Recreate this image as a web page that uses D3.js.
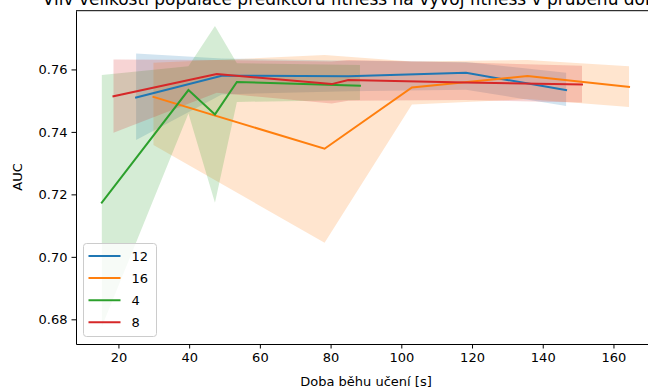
<!DOCTYPE html>
<html>
<head>
<meta charset="utf-8">
<script src="https://cdn.jsdelivr.net/npm/d3@7"></script>
<style>
  body { margin: 0; background: #fff; }
  text { font-family: "DejaVu Sans", sans-serif; fill: #000; }
</style>
</head>
<body>
<div id="chart"></div>
<script>
// series: population size of fitness predictors -> (time, AUC mean, band low, band high)
var labels = ["12", "16", "4", "8"];
var colors = ["#1f77b4", "#ff7f0e", "#2ca02c", "#d62728"];

var time12 = [25.0, 49.2, 85.0, 118.3, 146.6];
var auc12  = [0.7510, 0.7580, 0.7578, 0.7589, 0.7534];
var lo12   = [0.7374, 0.7520, 0.7530, 0.7535, 0.7483];
var hi12   = [0.7651, 0.7635, 0.7628, 0.7624, 0.7589];

var time16 = [29.9, 78.3, 103.0, 135.7, 164.4];
var auc16  = [0.7512, 0.7346, 0.7542, 0.7579, 0.7544];
var lo16   = [0.7358, 0.7045, 0.7488, 0.7505, 0.7480];
var hi16   = [0.7621, 0.7646, 0.7625, 0.7630, 0.7610];

var time4 = [15.3, 39.8, 47.3, 53.5, 88.3];
var auc4  = [0.7174, 0.7534, 0.7456, 0.7560, 0.7548];
var lo4   = [0.6776, 0.7459, 0.7173, 0.7496, 0.7502];
var hi4   = [0.7582, 0.7610, 0.7739, 0.7620, 0.7614];

var time8 = [18.6, 47.8, 80.3, 85.0, 118.0, 151.1];
var auc8  = [0.7514, 0.7585, 0.7553, 0.7566, 0.7558, 0.7552];
var lo8   = [0.7397, 0.7525, 0.7491, 0.7500, 0.7502, 0.7494];
var hi8   = [0.7632, 0.7630, 0.7625, 0.7630, 0.7622, 0.7612];

var xTicks = [20, 40, 60, 80, 100, 120, 140, 160];
var yTicks = [0.68, 0.70, 0.72, 0.74, 0.76];

var title = "Vliv velikosti populace prediktorů fitness na vývoj fitness v průběhu doby učení";
var xLabel = "Doba běhu učení [s]";
var yLabel = "AUC";

var series = [
  {label: labels[0], t: time12, v: auc12, lo: lo12, hi: hi12},
  {label: labels[1], t: time16, v: auc16, lo: lo16, hi: hi16},
  {label: labels[2], t: time4,  v: auc4,  lo: lo4,  hi: hi4},
  {label: labels[3], t: time8,  v: auc8,  lo: lo8,  hi: hi8}
];
series.forEach(function(s, i) {
  s.color = colors[i];
  s.pts = s.t.map(function(t, j) { return {t: t, v: s.v[j], lo: s.lo[j], hi: s.hi[j]}; });
});

var width = 648, height = 387;
var margin = {top: 10.7, left: 76, bottom: 344};

var x = d3.scaleLinear().domain([8, 172]).range([76, 655.9]);
var y = d3.scaleLinear().domain([0.6721, 0.7788]).range([344, 10.7]);

var svg = d3.select("#chart").append("svg")
    .attr("width", width)
    .attr("height", height);

var plot = svg.append("g");

// bands first (under all lines)
var area = d3.area()
    .x(function(d) { return x(d.t); })
    .y0(function(d) { return y(d.lo); })
    .y1(function(d) { return y(d.hi); });

plot.selectAll(".band")
    .data(series)
  .enter().append("path")
    .attr("class", "band")
    .attr("d", function(s) { return area(s.pts); })
    .attr("fill", function(s) { return s.color; })
    .attr("fill-opacity", 0.2)
    .attr("stroke", "none");

var line = d3.line()
    .x(function(d) { return x(d.t); })
    .y(function(d) { return y(d.v); });

plot.selectAll(".line")
    .data(series)
  .enter().append("path")
    .attr("class", "line")
    .attr("d", function(s) { return line(s.pts); })
    .attr("fill", "none")
    .attr("stroke", function(s) { return s.color; })
    .attr("stroke-width", 2)
    .attr("stroke-linecap", "square");

// axes
var xAxis = svg.append("g")
    .attr("transform", "translate(0," + margin.bottom + ")")
    .call(d3.axisBottom(x).tickValues(xTicks).tickSize(4.5).tickSizeOuter(0).tickPadding(4));

var yAxis = svg.append("g")
    .attr("transform", "translate(" + margin.left + ",0)")
    .call(d3.axisLeft(y).tickValues(yTicks).tickFormat(d3.format(".2f")).tickSize(4.5).tickSizeOuter(0).tickPadding(4));

[xAxis, yAxis].forEach(function(a) {
  a.select(".domain").attr("stroke", "#000").attr("stroke-width", 1);
  a.selectAll(".tick line").attr("stroke", "#000").attr("stroke-width", 1);
  a.selectAll(".tick text").attr("font-size", "13px").attr("font-family", "DejaVu Sans").attr("fill", "#000");
});

// top spine
svg.append("line")
    .attr("x1", margin.left).attr("x2", 656)
    .attr("y1", margin.top).attr("y2", margin.top)
    .attr("stroke", "#000").attr("stroke-width", 1);

// title: centred over the (wider) axes, so it runs off both edges
var t = svg.append("text")
    .attr("x", 0)
    .attr("y", 5)
    .attr("font-size", "17px")
    .text(title);
var cut = title.indexOf("doby") + 2;
var shift = 645 - t.node().getSubStringLength(0, cut);
t.attr("x", shift);

svg.append("text")
    .attr("x", 366)
    .attr("y", 386)
    .attr("text-anchor", "middle")
    .attr("font-size", "13px")
    .text(xLabel);

svg.append("text")
    .attr("transform", "translate(22,177) rotate(-90)")
    .attr("text-anchor", "middle")
    .attr("font-size", "13px")
    .text(yLabel);

// legend
var lg = svg.append("g").attr("transform", "translate(83.5,243.5)");
lg.append("rect")
    .attr("width", 73)
    .attr("height", 93)
    .attr("rx", 3)
    .attr("fill", "#fff")
    .attr("fill-opacity", 0.8)
    .attr("stroke", "#ccc")
    .attr("stroke-width", 1);

var items = lg.selectAll(".item")
    .data(series)
  .enter().append("g")
    .attr("transform", function(d, i) { return "translate(0," + (12.5 + i * 22.1) + ")"; });

items.append("line")
    .attr("x1", 5).attr("x2", 37)
    .attr("stroke", function(d) { return d.color; })
    .attr("stroke-width", 2);

items.append("text")
    .attr("x", 48)
    .attr("y", 5)
    .attr("font-size", "13px")
    .text(function(d) { return d.label; });
</script>
</body>
</html>
